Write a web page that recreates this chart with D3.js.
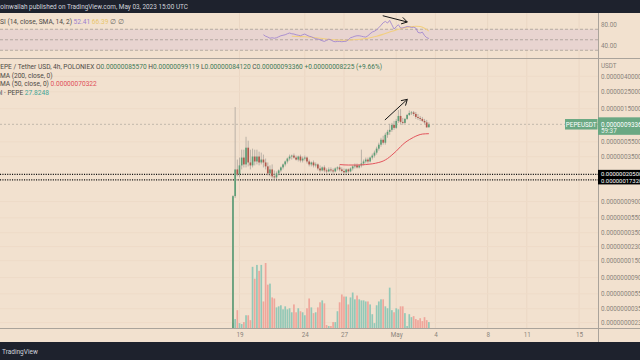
<!DOCTYPE html>
<html><head><meta charset="utf-8">
<script src="https://cdn.jsdelivr.net/npm/d3@7"></script>
<style>html,body{margin:0;padding:0;background:#f2e1cf;}svg{display:block;}</style>
</head><body>
<svg id="c" width="640" height="360"></svg>
<script>
// ---------- DATA (prices in units of 1e-9 USDT) ----------
const UNIT = 1e-9;
const startTime = Date.UTC(2023, 3, 18, 12); // first 4h bar
const barHours = 4;
const open = [1.53,106,238,205,269,341,277,460,294,269,352,303,352,294,321,294,261,211,238,193,187,211,231,253,277,303,331,352,362,341,321,352,312,331,341,303,277,294,269,277,245,231,253,231,224,238,231,224,245,253,238,227,218,238,224,245,261,269,253,269,285,303,321,303,341,362,396,447,504,585,535,680,744,790,918,839,1035,1203,1005,975,1100,1240,1317,1337,1278,1168,1133,1100,1035,990,855.7];
const high = [109,1577,321,341,433,433,640,568,433,447,433,433,408,396,373,331,294,269,277,231,224,238,261,285,312,341,373,373,385,362,362,373,352,362,352,321,303,312,294,285,269,261,269,245,253,253,245,253,261,269,253,245,245,245,253,269,285,285,277,433,321,341,341,352,385,421,474,535,621,660,722,790,946,975,1035,1100,1441,1485,1133,1133,1278,1419,1398,1398,1357,1278,1203,1168,1100,1067,991.19];
const low = [1.44,100,193,187,238,253,253,261,238,253,269,277,269,277,253,238,199,193,182,176,176,199,218,238,261,285,312,321,331,312,303,294,294,312,285,261,261,253,253,231,218,224,218,211,218,218,211,218,231,224,218,211,211,211,218,231,245,245,245,253,269,285,285,294,321,341,373,421,474,504,504,621,680,744,790,814,975,946,918,946,1067,1203,1240,1203,1100,1067,1035,1005,946,848,841.2];
const close = [106,238,205,269,341,277,460,294,269,352,303,352,294,321,294,261,211,238,193,187,211,231,253,277,303,331,352,362,341,321,352,312,331,341,303,277,294,269,277,245,231,253,231,224,238,231,224,245,253,238,227,218,238,224,245,261,269,253,269,285,303,321,303,341,362,396,447,504,585,535,680,744,790,918,839,1035,1203,1005,975,1100,1240,1317,1337,1278,1168,1133,1100,1035,990,851.35,933.6];
const volume = [23,42,84,23,18.6,27.8,60,60,37,288,232,297,269,297,125,306,204,209,144,139,97,102,107,88,102,88,93,74,111,74,93,79,74,60,93,139,97,70,74,97,121,130,116,14,9.3,9.3,27.8,27.8,79,121,158,148,148,111,144,167,135,153,135,130,130,125,125,111,65,23,107,125,135,135,102,93,190,84,74,93,88,102,102,70,9.3,65,51,56,42,37,46,32.5,51,37,27.8248];
const rsiStart = 14;
const rsi = [59.5,56.7,55.1,52.9,53.8,52.9,53.8,55.7,57.6,58.6,59.5,61.4,62.8,61.4,60.9,59.5,58.6,57.6,59.5,60.9,58.6,56.7,55.7,53.8,51.9,51.3,50.0,48.1,46.8,49.0,51.0,50.0,47.1,46.2,46.8,46.8,46.2,46.8,47.1,50.0,53.8,55.1,56.7,57.6,57.6,56.7,55.7,55.1,57.6,61.4,64.7,66.2,69.0,72.9,77.6,82.4,84.9,81.8,86.8,78.6,70.4,74.8,78.6,72.3,72.6,73.8,75.3,74.8,73.4,73.8,72.3,64.0,62.8,64.5,58.0,54.0,52.41];
const rsiMaBar = [27,30,33,36,39,42,45,48,51,54,57,60,63,66,69,72,75,78,81,84,86,88,90];
const rsiMaVal = [56.7,56.1,55.7,54.8,53.4,51.9,50.6,49.6,49.0,49.4,50.4,51.9,53.8,56.7,60.5,64.7,68.7,71.9,74.4,75.7,75.1,71.9,66.39];
const maBar = [49,53,57,61,64,67,69,71,73,75,77,79,81,83,85,87,90];
const maVal = [276,272,272,276,282,294,307,331,368,414,475,535,586,631,670,695,703.22];
const priceTicks = [4000,2500,1500,550,350,90,55,35,23,15,9,5.5,3.5,2.3];
const hLines = [205, 173.2];
const lastPrice = 933.6;
const tickDates = [[2023,3,19],[2023,3,24],[2023,3,27],[2023,4,1],[2023,4,4],[2023,4,8],[2023,4,11],[2023,4,15]];
const tickLabels = ["19","24","27","May","4","8","11","15"];

// ---------- LAYOUT ----------
const W = 640, H = 360, PX = 598;
const RSI_TOP = 13, RSI_BOT = 58, MAIN_TOP = 58, MAIN_BOT = 328, AX_BOT = 342;
const BG = '#f2e1cf', FONT = 'Roboto, "Liberation Sans", sans-serif';
const UP = '#5f9e77', DOWN = '#b0594d';

const svg = d3.select('#c').attr('font-family', FONT);
svg.append('rect').attr('width', W).attr('height', H).attr('fill', BG);

const day = 864e5, anchor = Date.UTC(2023, 3, 19);
const bt = i => new Date(startTime + i * barHours * 3600e3);
const bars = open.map((o, i) => ({t: bt(i), o: o * UNIT, h: high[i] * UNIT, l: low[i] * UNIT, c: close[i] * UNIT, v: volume[i]}));

const x = d3.scaleUtc().domain([new Date(anchor - 18.339 * day), new Date(anchor + 27.45 * day)]).range([0, PX]);
const y = d3.scaleLog().domain([4e-6, 4e-9]).range([76.3, 304.3]);
const vy = d3.scaleLinear().domain([0, 306]).range([MAIN_BOT, 263]);
const ry = d3.scaleLinear().domain([40, 80]).range([45, 24]);

const defs = svg.append('defs');
defs.append('clipPath').attr('id', 'cm').append('rect').attr('x', 0).attr('y', MAIN_TOP).attr('width', PX).attr('height', MAIN_BOT - MAIN_TOP);
defs.append('clipPath').attr('id', 'cr').append('rect').attr('x', 0).attr('y', RSI_TOP).attr('width', PX).attr('height', RSI_BOT - RSI_TOP);

// grid
const tDates = tickDates.map(d => new Date(Date.UTC(d[0], d[1], d[2])));
svg.append('g').selectAll('line').data(tDates).join('line')
  .attr('x1', d => x(d)).attr('x2', d => x(d)).attr('y1', RSI_TOP).attr('y2', MAIN_BOT)
  .attr('stroke', '#ebd7c4').attr('stroke-width', 1);
svg.append('g').attr('clip-path', 'url(#cm)').selectAll('line').data(priceTicks).join('line')
  .attr('x1', 0).attr('x2', PX).attr('y1', d => y(d * UNIT)).attr('y2', d => y(d * UNIT))
  .attr('stroke', '#eedbc8').attr('stroke-width', 1);

// ---------- RSI PANE ----------
const rg = svg.append('g').attr('clip-path', 'url(#cr)');
rg.append('rect').attr('x', 0).attr('width', PX).attr('y', ry(70)).attr('height', ry(30) - ry(70)).attr('fill', '#e8d4d0');
[70, 50, 30].forEach(v => rg.append('line').attr('x1', 0).attr('x2', PX).attr('y1', ry(v)).attr('y2', ry(v))
  .attr('stroke', '#9d968e').attr('stroke-width', 0.7).attr('stroke-dasharray', '3,2'));
rg.append('path').datum(rsiMaVal.map((v, k) => [rsiMaBar[k], v]))
  .attr('d', d3.line().curve(d3.curveMonotoneX).x(d => x(bt(d[0]))).y(d => ry(d[1])))
  .attr('fill', 'none').attr('stroke', '#f2cf80').attr('stroke-width', 1.1);
rg.append('path').datum(rsi.map((v, k) => [rsiStart + k, v]))
  .attr('d', d3.line().x(d => x(bt(d[0]))).y(d => ry(d[1])))
  .attr('fill', 'none').attr('stroke', '#9a7fcf').attr('stroke-width', 0.8);

// ---------- MAIN PANE ----------
const mg = svg.append('g').attr('clip-path', 'url(#cm)');
const bw = 1.7;
mg.append('g').selectAll('rect').data(bars).join('rect')
  .attr('x', d => x(d.t) - bw / 2).attr('width', bw)
  .attr('y', d => vy(d.v)).attr('height', d => vy(0) - vy(d.v))
  .attr('fill', d => d.c >= d.o ? '#93c8b7' : '#efa69b');
mg.append('line').attr('x1', 0).attr('x2', PX).attr('y1', y(lastPrice * UNIT)).attr('y2', y(lastPrice * UNIT))
  .attr('stroke', '#a39d95').attr('stroke-width', 0.6).attr('stroke-dasharray', '2,2');
mg.append('g').selectAll('line').data(hLines).join('line')
  .attr('x1', 0).attr('x2', PX).attr('y1', d => y(d * UNIT)).attr('y2', d => y(d * UNIT))
  .attr('stroke', '#111').attr('stroke-width', 1.3).attr('stroke-dasharray', '1.1,1.3');
mg.append('g').selectAll('line').data(bars).join('line')
  .attr('x1', d => x(d.t)).attr('x2', d => x(d.t)).attr('y1', d => y(d.h)).attr('y2', d => y(d.l))
  .attr('stroke', '#a29c95').attr('stroke-width', 0.7);
mg.append('g').selectAll('rect').data(bars).join('rect')
  .attr('x', d => x(d.t) - bw / 2).attr('width', bw)
  .attr('y', d => Math.min(y(d.o), y(d.c))).attr('height', d => Math.max(0.8, Math.abs(y(d.o) - y(d.c))))
  .attr('fill', d => d.c >= d.o ? UP : DOWN);
mg.append('path').datum(maVal.map((v, k) => [maBar[k], v * UNIT]))
  .attr('d', d3.line().curve(d3.curveMonotoneX).x(d => x(bt(d[0]))).y(d => y(d[1])))
  .attr('fill', 'none').attr('stroke', '#e3545c').attr('stroke-width', 1);

// arrows (annotations in data coordinates)
function arrow(g, x1, y1, x2, y2) {
  g.append('line').attr('x1', x1).attr('y1', y1).attr('x2', x2).attr('y2', y2).attr('stroke', '#151515').attr('stroke-width', 1);
  const a = Math.atan2(y2 - y1, x2 - x1), L = 6.5;
  [a + 2.6, a - 2.6].forEach(b => g.append('line').attr('x1', x2).attr('y1', y2)
    .attr('x2', x2 + L * Math.cos(b)).attr('y2', y2 + L * Math.sin(b)).attr('stroke', '#151515').attr('stroke-width', 1));
}
arrow(svg.append('g'), x(bt(69.8)), y(1.064e-6), x(bt(80.1)), y(1.99e-6));
arrow(svg.append('g'), x(bt(68.8)), ry(95.8), x(bt(80.1)), ry(83.8));

// ---------- FRAME ----------
svg.append('line').attr('x1', 0).attr('x2', W).attr('y1', MAIN_TOP + 0.5).attr('y2', MAIN_TOP + 0.5).attr('stroke', '#aaa39b');
svg.append('line').attr('x1', 0).attr('x2', W).attr('y1', MAIN_BOT + 0.5).attr('y2', MAIN_BOT + 0.5).attr('stroke', '#aaa39b');
svg.append('line').attr('x1', PX + 0.5).attr('x2', PX + 0.5).attr('y1', RSI_TOP).attr('y2', AX_BOT).attr('stroke', '#aaa39b');

// ---------- AXES ----------
const fmt = d3.format('.11f');
const ya = svg.append('g').attr('transform', `translate(${PX},0)`)
  .call(d3.axisRight(y).tickValues(priceTicks.map(v => v * UNIT)).tickSize(0).tickPadding(3).tickFormat(fmt));
ya.select('.domain').remove();
ya.selectAll('text').attr('font-size', 6.3).attr('fill', '#8a847c').attr('font-family', FONT);
svg.append('text').attr('x', PX + 3).attr('y', 67.5).text('USDT').attr('font-size', 6.3).attr('fill', '#8a847c');
const ra = svg.append('g').attr('transform', `translate(${PX},0)`)
  .call(d3.axisRight(ry).tickValues([80, 40]).tickSize(0).tickPadding(3).tickFormat(d3.format('.2f')));
ra.select('.domain').remove();
ra.selectAll('text').attr('font-size', 6.3).attr('fill', '#8a847c').attr('font-family', FONT);

const xa = svg.append('g').attr('transform', `translate(0,${MAIN_BOT})`)
  .call(d3.axisBottom(x).tickValues(tDates).tickSize(0).tickPadding(5).tickFormat((d, i) => tickLabels[i]));
xa.select('.domain').remove();
xa.selectAll('text').attr('font-size', 6.3).attr('fill', '#8a847c').attr('font-family', FONT);

// price labels
const ly = y(lastPrice * UNIT);
svg.append('rect').attr('x', PX).attr('y', ly - 7).attr('width', W - PX).attr('height', 17.5).attr('fill', '#6aa883');
svg.append('text').attr('x', PX + 3).attr('y', ly + 2.2).text(fmt(lastPrice * UNIT)).attr('font-size', 6.3).attr('fill', '#fff');
svg.append('text').attr('x', PX + 3).attr('y', ly + 9).text('59:37').attr('font-size', 6.3).attr('fill', '#eaf4ee');
svg.append('rect').attr('x', 565).attr('y', ly - 5.3).attr('width', 32.5).attr('height', 10.5).attr('fill', '#6aa883');
svg.append('text').attr('x', 581.2).attr('y', ly + 2.2).attr('text-anchor', 'middle').text('PEPEUSDT').attr('font-size', 6.3).attr('fill', '#fff');
const hy = hLines.map(v => y(v * UNIT));
svg.append('rect').attr('x', PX).attr('y', hy[0] - 4.5).attr('width', W - PX).attr('height', hy[1] - hy[0] + 9).attr('fill', '#000');
hLines.forEach((v, k) => svg.append('text').attr('x', PX + 3).attr('y', hy[k] + (k ? 2.9 : 1.5)).text(fmt(v * UNIT)).attr('font-size', 5.9).attr('fill', '#fff'));

// ---------- LEGENDS ----------
const lg = svg.append('g').attr('font-size', 6.6);
function row(xx, yy, parts) {
  const t = lg.append('text').attr('x', xx).attr('y', yy);
  parts.forEach(p => t.append('tspan').text(p[0]).attr('fill', p[1]));
}
const G = '#3f7a58', T = '#4d4a46';
row(-4, 24, [['RSI (14, close, SMA, 14, 2)  ', T], ['52.41', '#9a7fcf'], ['  ', T], ['66.39', '#e9c66e'], ['  \u2205  \u2205', '#6d6963']]);
row(-4, 69, [['PEPE / Tether USD, 4h, POLONIEX   ', T], ['O', T], ['0.00000085570  ', G], ['H', T], ['0.00000099119  ', G], ['L', T], ['0.00000084120  ', G], ['C', T], ['0.00000093360  ', G], ['+0.00000008225 (+9.66%)', G]]);
row(-4, 77.5, [['SMA (200, close, 0)', T]]);
row(-4, 86, [['SMA (50, close, 0)  ', T], ['0.00000070322', '#e0505a']]);
row(-7, 94.5, [['Vol \u00b7 PEPE  ', T], ['27.8248', '#3fa597']]);

// ---------- TOP / BOTTOM BARS ----------
svg.append('rect').attr('x', 0).attr('y', 0).attr('width', W).attr('height', RSI_TOP).attr('fill', '#1e222d');
svg.append('text').attr('x', -3).attr('y', 9.3).attr('font-size', 6.4).attr('fill', '#d1d4dc')
  .text('coinwallah published on TradingView.com, May 03, 2023 15:00 UTC');
svg.append('rect').attr('x', 0).attr('y', AX_BOT).attr('width', W).attr('height', H - AX_BOT).attr('fill', '#1e222d');
svg.append('text').attr('x', 2).attr('y', 354).attr('font-size', 6.5).attr('fill', '#d1d4dc').text('TradingView');
</script>
</body></html>
